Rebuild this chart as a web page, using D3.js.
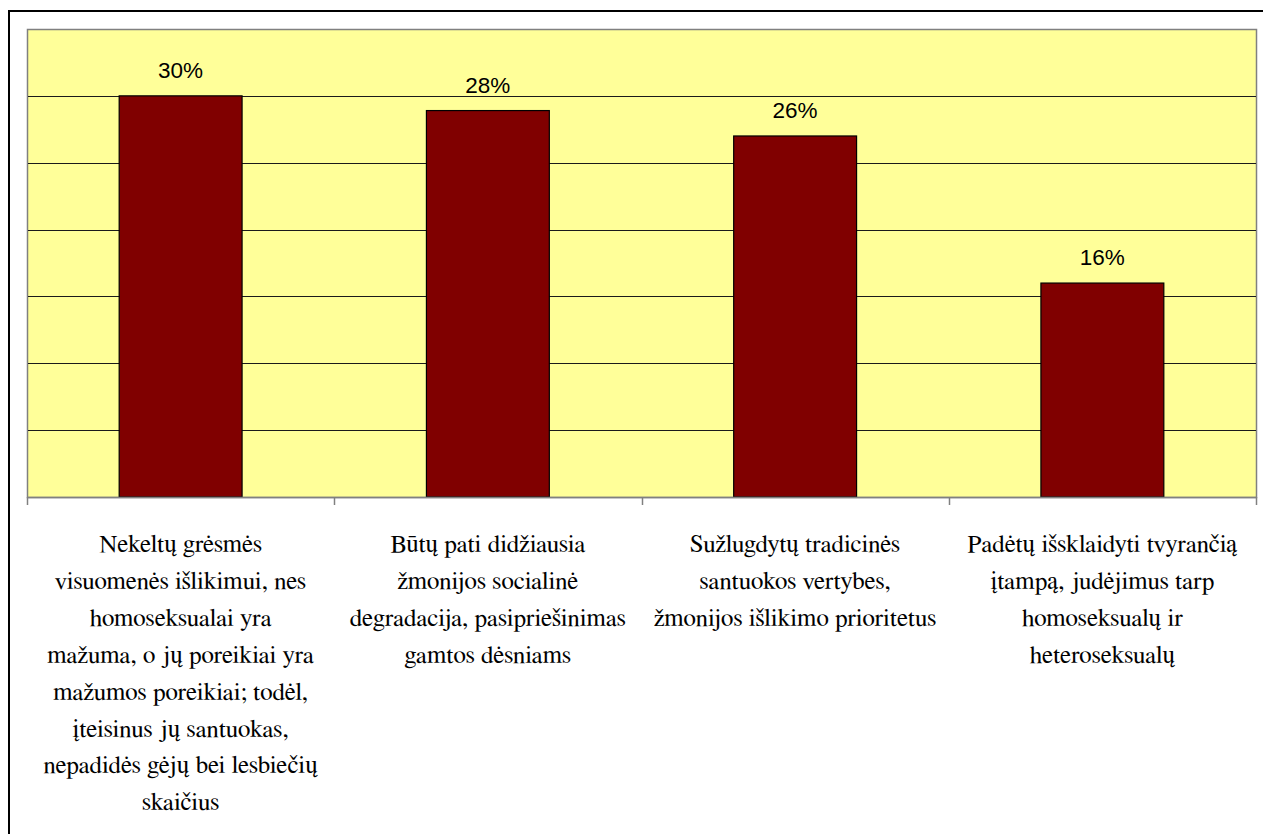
<!DOCTYPE html>
<html>
  <head>
    <meta charset="utf-8">
    <title>Bar Chart</title>
    <script type="text/javascript" src="https://d3js.org/d3.v7.min.js"></script>
  </head>
  <body style="margin:0">
    <script>

    // data
    var categories = ["c1", "c2", "c3", "c4"];
    var values = [30, 28.9, 27.0, 16.0];
    var valueLabels = ["30%", "28%", "26%", "16%"];
    var categoryLines = [
      ["Nekeltų grėsmės", "visuomenės išlikimui, nes", "homoseksualai yra", "mažuma, o jų poreikiai yra",
       "mažumos poreikiai; todėl,", "įteisinus jų santuokas,", "nepadidės gėjų bei lesbiečių", "skaičius"],
      ["Būtų pati didžiausia", "žmonijos socialinė", "degradacija, pasipriešinimas", "gamtos dėsniams"],
      ["Sužlugdytų tradicinės", "santuokos vertybes,", "žmonijos išlikimo prioritetus"],
      ["Padėtų išsklaidyti tvyrančią", "įtampą, judėjimus tarp", "homoseksualų ir", "heteroseksualų"]
    ];
    var gridValues = [5, 10, 15, 20, 25, 30];

    var W = 1263, H = 834;
    var plot = {left: 27, top: 29, right: 1256, bottom: 497};
    var serifFont = "FreeSerif, 'Liberation Serif', 'Times New Roman', Tinos, serif";

    var svg = d3.select("body")
                .append("svg")
                .attr("width", W)
                .attr("height", H);

    // outer frame
    svg.append("rect")
       .attr("x", 9).attr("y", 11)
       .attr("width", 1300).attr("height", 900)
       .attr("fill", "none")
       .attr("stroke", "#000")
       .attr("stroke-width", 2);

    var x = d3.scaleBand()
              .domain(categories)
              .range([plot.left, plot.right])
              .paddingInner(0.6)
              .paddingOuter(0.3);

    var y = d3.scaleLinear()
              .domain([0, 35])
              .range([plot.bottom, plot.top]);

    // plot area
    svg.append("rect")
       .attr("x", plot.left + 0.5).attr("y", plot.top + 0.5)
       .attr("width", plot.right - plot.left).attr("height", plot.bottom - plot.top)
       .attr("fill", "#FFFF99")
       .attr("stroke", "#808080")
       .attr("stroke-width", 1.5);

    svg.selectAll("line.grid")
       .data(gridValues)
       .enter()
       .append("line")
       .attr("class", "grid")
       .attr("x1", plot.left + 1).attr("x2", plot.right)
       .attr("y1", function(d) {return Math.round(y(d)) + 0.5})
       .attr("y2", function(d) {return Math.round(y(d)) + 0.5})
       .attr("stroke", "#1a1a1a")
       .attr("stroke-width", 1);

    // bars
    svg.selectAll("rect.bar")
       .data(values)
       .enter()
       .append("rect")
       .attr("class", "bar")
       .attr("x", function(d, i) {return x(categories[i])})
       .attr("y", function(d) {return y(d)})
       .attr("width", x.bandwidth())
       .attr("height", function(d) {return plot.bottom - y(d)})
       .attr("fill", "#800000")
       .attr("stroke", "#000")
       .attr("stroke-width", 1.2);

    // x axis line and ticks
    svg.append("line")
       .attr("x1", plot.left).attr("x2", plot.right + 1)
       .attr("y1", plot.bottom + 0.5).attr("y2", plot.bottom + 0.5)
       .attr("stroke", "#808080")
       .attr("stroke-width", 1.5);

    var bounds = d3.range(categories.length + 1).map(function(i) {return plot.left + i * x.step()});
    svg.selectAll("line.tick")
       .data(bounds)
       .enter()
       .append("line")
       .attr("class", "tick")
       .attr("x1", function(d) {return Math.round(d) + 0.5})
       .attr("x2", function(d) {return Math.round(d) + 0.5})
       .attr("y1", plot.bottom).attr("y2", plot.bottom + 8)
       .attr("stroke", "#808080")
       .attr("stroke-width", 1.5);

    // value labels
    svg.selectAll("text.val")
       .data(values)
       .enter()
       .append("text")
       .attr("class", "val")
       .attr("x", function(d, i) {return x(categories[i]) + x.bandwidth() / 2})
       .attr("y", function(d) {return y(d) - 18})
       .attr("text-anchor", "middle")
       .attr("font-family", "Arial, 'Liberation Sans', sans-serif")
       .attr("font-size", 22.5)
       .attr("fill", "#000")
       .text(function(d, i) {return valueLabels[i]});

    // category labels, one text per line
    var lineH = 36.9;
    var catRows = [];
    categoryLines.forEach(function(lines, i) {
      lines.forEach(function(t, j) {catRows.push({cat: categories[i], row: j, text: t})});
    });

    svg.selectAll("text.cat")
       .data(catRows)
       .enter()
       .append("text")
       .attr("class", "cat")
       .attr("x", function(d) {return x(d.cat) + x.bandwidth() / 2})
       .attr("y", function(d) {return plot.bottom + 55 + d.row * lineH})
       .attr("text-anchor", "middle")
       .attr("font-family", serifFont)
       .attr("font-size", 25)
       .attr("fill", "#000")
       .text(function(d) {return d.text});

    </script>
  </body>
</html>
